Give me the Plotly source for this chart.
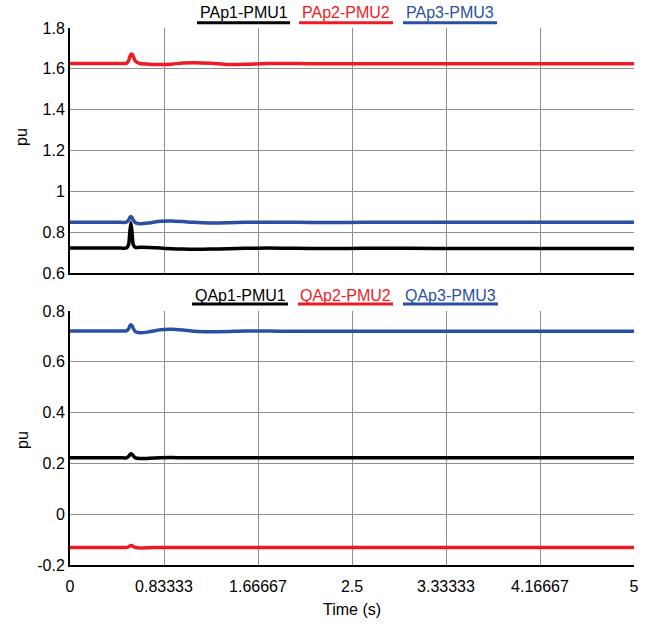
import plotly.graph_objects as go

# Time base (s) shared by all measured channels
time_s = [0.0, 0.45, 0.50, 0.52, 0.53, 0.54, 0.55, 0.56, 0.58, 0.62, 0.70, 0.80,
          0.90, 1.00, 1.10, 1.25, 1.40, 1.55, 1.75, 2.00, 2.30, 2.60, 3.00, 3.50,
          4.00, 4.50, 5.00]

# Active power (pu) at each PMU
pap1_pmu1 = [0.722, 0.722, 0.722, 0.740, 0.800, 0.846, 0.800, 0.740, 0.725, 0.726,
             0.725, 0.722, 0.719, 0.717, 0.716, 0.717, 0.719, 0.721, 0.722, 0.721,
             0.720, 0.721, 0.721, 0.720, 0.720, 0.720, 0.720]
pap2_pmu2 = [1.626, 1.626, 1.627, 1.640, 1.658, 1.670, 1.672, 1.662, 1.638, 1.626,
             1.623, 1.621, 1.623, 1.628, 1.630, 1.627, 1.621, 1.622, 1.626, 1.626,
             1.625, 1.625, 1.625, 1.625, 1.625, 1.625, 1.625]
pap3_pmu3 = [0.848, 0.848, 0.849, 0.860, 0.872, 0.877, 0.872, 0.860, 0.846, 0.841,
             0.845, 0.853, 0.855, 0.852, 0.848, 0.845, 0.846, 0.848, 0.849, 0.848,
             0.847, 0.848, 0.848, 0.848, 0.848, 0.848, 0.848]

# Reactive power (pu) at each PMU
qap1_pmu1 = [0.222, 0.222, 0.222, 0.228, 0.234, 0.238, 0.236, 0.230, 0.222, 0.219,
             0.220, 0.222, 0.223, 0.222, 0.222, 0.222, 0.222, 0.222, 0.222, 0.222,
             0.222, 0.222, 0.222, 0.222, 0.222, 0.222, 0.222]
qap2_pmu2 = [-0.131, -0.131, -0.131, -0.128, -0.125, -0.123, -0.124, -0.127, -0.131,
             -0.133, -0.132, -0.131, -0.131, -0.131, -0.131, -0.131, -0.131, -0.131,
             -0.131, -0.131, -0.131, -0.131, -0.131, -0.131, -0.131, -0.131, -0.131]
qap3_pmu3 = [0.7215, 0.7215, 0.722, 0.730, 0.741, 0.746, 0.742, 0.732, 0.719, 0.714,
             0.718, 0.726, 0.728, 0.725, 0.720, 0.718, 0.719, 0.721, 0.721, 0.720,
             0.720, 0.720, 0.720, 0.720, 0.720, 0.720, 0.720]

p_names = ["PAp1-PMU1", "PAp2-PMU2", "PAp3-PMU3"]
q_names = ["QAp1-PMU1", "QAp2-PMU2", "QAp3-PMU3"]

x_ticks = [0, 0.83333, 1.66667, 2.5, 3.33333, 4.16667, 5]
x_tick_text = ["0", "0.83333", "1.66667", "2.5", "3.33333", "4.16667", "5"]
p_ticks = [0.6, 0.8, 1.0, 1.2, 1.4, 1.6, 1.8]
p_tick_text = ["0.6", "0.8", "1", "1.2", "1.4", "1.6", "1.8"]
q_ticks = [-0.2, 0, 0.2, 0.4, 0.6, 0.8]
q_tick_text = ["-0.2", "0", "0.2", "0.4", "0.6", "0.8"]

colors = ["#000000", "#ED1C24", "#2B4FA2"]
FONT = "Arial, Liberation Sans, Helvetica, sans-serif"

# Figure geometry (pixels) used to place legend text and underlines
W, H = 662, 628
ML, MR, MT, MB = 70, 28, 28, 63
PW, PH = W - ML - MR, H - MT - MB


def px(xp):
    return (xp - ML) / PW


def py(yp):
    return (H - MB - yp) / PH


fig = go.Figure()

for name, vals, col in zip(p_names, [pap1_pmu1, pap2_pmu2, pap3_pmu3], colors):
    fig.add_trace(go.Scatter(x=time_s, y=vals, name=name, mode="lines",
                             line=dict(color=col, width=3.5, shape="spline", smoothing=0.6),
                             xaxis="x", yaxis="y", showlegend=False))

for name, vals, col in zip(q_names, [qap1_pmu1, qap2_pmu2, qap3_pmu3], colors):
    fig.add_trace(go.Scatter(x=time_s, y=vals, name=name, mode="lines",
                             line=dict(color=col, width=3.5, shape="spline", smoothing=0.6),
                             xaxis="x2", yaxis="y2", showlegend=False))

axis_common = dict(showline=True, linecolor="black", linewidth=2, showgrid=True,
                   gridcolor="#8f8f8f", gridwidth=1, zeroline=False, ticks="",
                   tickfont=dict(family=FONT, size=16, color="black"))

top_dom = [py(273), 1.0]
bot_dom = [0.0, py(311)]

fig.update_layout(
    width=W, height=H,
    margin=dict(l=ML, r=MR, t=MT, b=MB),
    paper_bgcolor="white", plot_bgcolor="white",
    xaxis=dict(domain=[0, 1], range=[0, 5], tickvals=x_ticks, ticktext=x_tick_text,
               showticklabels=False, anchor="y", **axis_common),
    yaxis=dict(domain=top_dom, range=[0.6, 1.8], tickvals=p_ticks, ticktext=p_tick_text,
               anchor="x", **axis_common),
    xaxis2=dict(domain=[0, 1], range=[0, 5], tickvals=x_ticks, ticktext=x_tick_text,
                anchor="y2", ticklabelstandoff=6, **axis_common),
    yaxis2=dict(domain=bot_dom, range=[-0.2, 0.8], tickvals=q_ticks, ticktext=q_tick_text,
                anchor="x2", **axis_common),
)

annotations = []
shapes = []

# Underlined legend entries centred above each panel
legend_rows = [
    (p_names, [(197, 290), (299, 393), (403, 497)], 13, 22.7),
    (q_names, [(192, 288), (298, 393), (403, 498)], 295, 304),
]
for names, spans, ty, uy in legend_rows:
    for name, (x0, x1), col in zip(names, spans, colors):
        annotations.append(dict(text=name, x=px((x0 + x1) / 2), y=py(ty), xref="paper",
                                yref="paper", xanchor="center", yanchor="middle",
                                showarrow=False,
                                font=dict(family=FONT, size=16, color=col)))
        shapes.append(dict(type="line", xref="paper", yref="paper",
                           x0=px(x0), x1=px(x1), y0=py(uy), y1=py(uy),
                           line=dict(color=col, width=3)))

# Axis titles
for ycen in (137, 440):
    annotations.append(dict(text="pu", x=px(22), y=py(ycen), xref="paper", yref="paper",
                            xanchor="center", yanchor="middle", textangle=-90,
                            showarrow=False, font=dict(family=FONT, size=16, color="black")))
annotations.append(dict(text="Time (s)", x=px(352), y=py(609), xref="paper", yref="paper",
                        xanchor="center", yanchor="middle", showarrow=False,
                        font=dict(family=FONT, size=16, color="black")))

fig.update_layout(annotations=annotations, shapes=shapes)

fig.write_html("out.html")
